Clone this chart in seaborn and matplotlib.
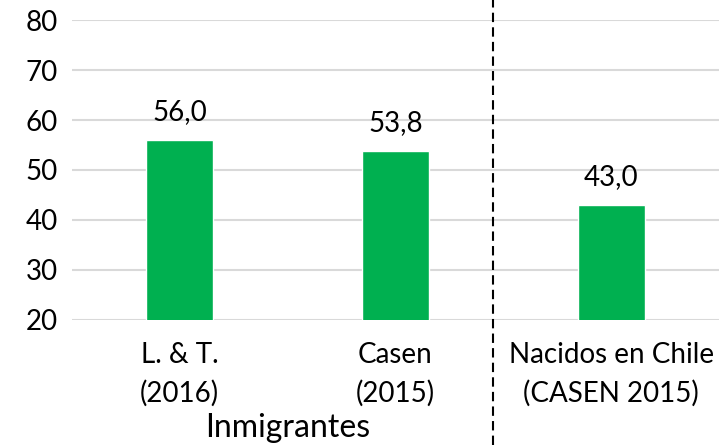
import matplotlib.pyplot as plt
import seaborn as sns

categorias = ["L. & T.\n(2016)", "Casen\n(2015)", "Nacidos en Chile\n(CASEN 2015)"]
valores = [56.0, 53.8, 43.0]
ticks_y = [20, 30, 40, 50, 60, 70, 80]
grupo = "Inmigrantes"

sns.set_theme(style="white")
plt.rcParams['font.family'] = ['Lato', 'DejaVu Sans']

fig = plt.figure(figsize=(7.19, 4.45), dpi=100)
ax = fig.add_axes([0.1, 0.281, 0.9, 0.674])

sns.barplot(x=categorias, y=valores, color="#00b050", width=0.31,
            saturation=1, ax=ax, zorder=3)

ax.set_ylim(20, 80)
ax.set_xlim(-0.5, 2.5)
ax.set_yticks(ticks_y)
ax.yaxis.grid(True, color="#d9d9d9", linewidth=1.5, zorder=0)
ax.set_axisbelow(True)
sns.despine(ax=ax, left=True, bottom=True, top=True, right=True)
ax.tick_params(axis='y', labelsize=20, length=0, pad=10, colors='black')
ax.tick_params(axis='x', labelsize=20, length=0, pad=16, colors='black')
for lbl in ax.get_xticklabels():
    lbl.set_linespacing(1.55)
ax.set_xlabel("")
ax.set_ylabel("")

for i, v in enumerate(valores):
    ax.text(i, v + 3, f"{v:.1f}".replace('.', ','), ha='center', va='bottom',
            fontsize=20, color='black')

ax.text(0.5, -0.36, grupo, transform=ax.get_xaxis_transform(), ha='center',
        va='center', fontsize=23, color='black')

ax.axvline(1.45, ymin=-0.417, ymax=1.067, color='black', linestyle=(0, (4.5, 2.5)),
           linewidth=1.5, clip_on=False)

plt.savefig("out.png", dpi=100)
plt.close()
